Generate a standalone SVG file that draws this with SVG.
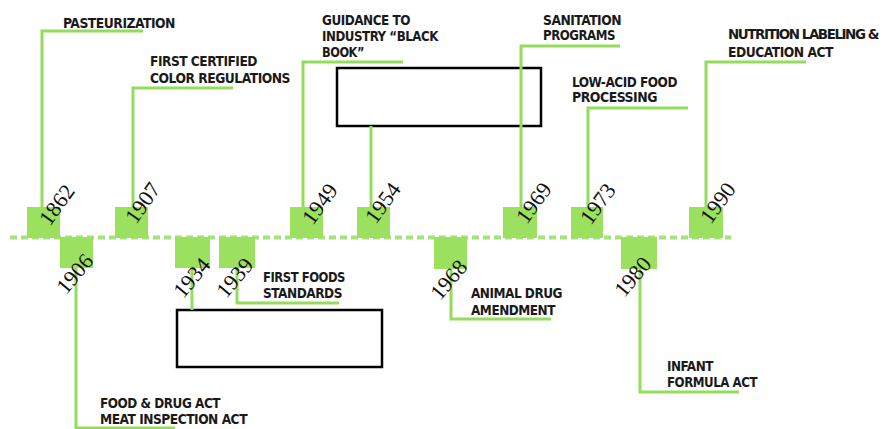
<svg xmlns="http://www.w3.org/2000/svg" width="883" height="429" viewBox="0 0 883 429">
<style>
.sq{fill:#9be15f}
.ld{fill:none;stroke:#93dc5c;stroke-width:3}
.tl{stroke:#a4e37a;stroke-width:4;stroke-dasharray:7 4}
.box{fill:#fff;stroke:#000;stroke-width:2.5}
.lb{font-family:"DejaVu Sans Condensed","DejaVu Sans",sans-serif;font-weight:bold;font-size:14px;fill:#1a1a1a;letter-spacing:-0.5px}
.yr{font-family:"Liberation Serif",serif;font-size:22px;fill:#111;text-anchor:middle}
</style>
<rect width="883" height="429" fill="#fff"/>
<g id="timeline"><line class="tl" x1="10" y1="237.5" x2="731" y2="237.5"/></g>
<g id="boxes">
<rect class="box" x="337" y="68" width="204" height="58"/>
<rect class="box" x="177" y="310" width="205" height="57"/>
</g>
<g id="connectors">
<polyline class="ld" points="143,31 42,31 42,207"/>
<polyline class="ld" points="233,88 133,88 133,207"/>
<polyline class="ld" points="403,62 303,62 303,207"/>
<polyline class="ld" points="371,126 371,207"/>
<polyline class="ld" points="620,46 521,46 521,207"/>
<polyline class="ld" points="688,108 588,108 588,207"/>
<polyline class="ld" points="806,62 706,62 706,207"/>
<polyline class="ld" points="76,268 76,428 175,428"/>
<polyline class="ld" points="192,268 192,310"/>
<polyline class="ld" points="237,268 237,303 339,303"/>
<polyline class="ld" points="451,269 451,319 551,319"/>
<polyline class="ld" points="640,269 640,392 739,392"/>
</g>
<g id="n1862"><rect class="sq" x="27" y="207" width="33" height="31"/><g transform="translate(57,205) rotate(-54)"><text class="yr" x="0" y="7">1862</text></g>
<text class="lb" x="63" y="28" textLength="112" lengthAdjust="spacingAndGlyphs">PASTEURIZATION</text></g>
<g id="n1907"><rect class="sq" x="115" y="207" width="33" height="31"/><g transform="translate(143,203) rotate(-55)"><text class="yr" x="0" y="7">1907</text></g>
<text class="lb" x="150" y="66" textLength="107" lengthAdjust="spacingAndGlyphs">FIRST CERTIFIED</text>
<text class="lb" x="150" y="83" textLength="140" lengthAdjust="spacingAndGlyphs">COLOR REGULATIONS</text></g>
<g id="n1949"><rect class="sq" x="290" y="207" width="33" height="31"/><g transform="translate(320,204) rotate(-54)"><text class="yr" x="0" y="7">1949</text></g>
<text class="lb" x="322" y="25" textLength="88" lengthAdjust="spacingAndGlyphs">GUIDANCE TO</text>
<text class="lb" x="322" y="41" textLength="116" lengthAdjust="spacingAndGlyphs">INDUSTRY “BLACK</text>
<text class="lb" x="322" y="57" textLength="42" lengthAdjust="spacingAndGlyphs">BOOK”</text></g>
<g id="n1954"><rect class="sq" x="357" y="207" width="33" height="31"/><g transform="translate(383,203) rotate(-54)"><text class="yr" x="0" y="7">1954</text></g></g>
<g id="n1969"><rect class="sq" x="503" y="207" width="34" height="31"/><g transform="translate(534,203) rotate(-54)"><text class="yr" x="0" y="7">1969</text></g>
<text class="lb" x="543" y="25" textLength="78" lengthAdjust="spacingAndGlyphs">SANITATION</text>
<text class="lb" x="543" y="40" textLength="72" lengthAdjust="spacingAndGlyphs">PROGRAMS</text></g>
<g id="n1973"><rect class="sq" x="571" y="207" width="32" height="31"/><g transform="translate(598,204) rotate(-54)"><text class="yr" x="0" y="7">1973</text></g>
<text class="lb" x="572" y="87" textLength="105" lengthAdjust="spacingAndGlyphs">LOW-ACID FOOD</text>
<text class="lb" x="572" y="102" textLength="85" lengthAdjust="spacingAndGlyphs">PROCESSING</text></g>
<g id="n1990"><rect class="sq" x="689" y="207" width="34" height="31"/><g transform="translate(718,203) rotate(-54)"><text class="yr" x="0" y="7">1990</text></g>
<text class="lb" x="728" y="39" textLength="150" lengthAdjust="spacingAndGlyphs" style="font-size:13.5px;letter-spacing:-1.3px">NUTRITION LABELING &amp;</text>
<text class="lb" x="728" y="57" textLength="105" lengthAdjust="spacingAndGlyphs">EDUCATION ACT</text></g>
<g id="n1906"><rect class="sq" x="60" y="237" width="33" height="31"/><g transform="translate(75,274) rotate(-50)"><text class="yr" x="0" y="7">1906</text></g>
<text class="lb" x="100" y="408" textLength="120" lengthAdjust="spacingAndGlyphs">FOOD &amp; DRUG ACT</text>
<text class="lb" x="100" y="424" textLength="147" lengthAdjust="spacingAndGlyphs">MEAT INSPECTION ACT</text></g>
<g id="n1934"><rect class="sq" x="175" y="237" width="35" height="31"/><g transform="translate(192,278) rotate(-50)"><text class="yr" x="0" y="7">1934</text></g></g>
<g id="n1939"><rect class="sq" x="219" y="237" width="36" height="31"/><g transform="translate(235,278) rotate(-50)"><text class="yr" x="0" y="7">1939</text></g>
<text class="lb" x="263" y="282" textLength="82" lengthAdjust="spacingAndGlyphs">FIRST FOODS</text>
<text class="lb" x="263" y="298" textLength="79" lengthAdjust="spacingAndGlyphs">STANDARDS</text></g>
<g id="n1968"><rect class="sq" x="434" y="237" width="33" height="32"/><g transform="translate(449,280) rotate(-50)"><text class="yr" x="0" y="7">1968</text></g>
<text class="lb" x="471" y="298" textLength="91" lengthAdjust="spacingAndGlyphs">ANIMAL DRUG</text>
<text class="lb" x="471" y="315" textLength="84" lengthAdjust="spacingAndGlyphs">AMENDMENT</text></g>
<g id="n1980"><rect class="sq" x="621" y="237" width="36" height="32"/><g transform="translate(633,277) rotate(-50)"><text class="yr" x="0" y="7">1980</text></g>
<text class="lb" x="667" y="371" textLength="46" lengthAdjust="spacingAndGlyphs">INFANT</text>
<text class="lb" x="667" y="387" textLength="90" lengthAdjust="spacingAndGlyphs">FORMULA ACT</text></g>
</svg>
